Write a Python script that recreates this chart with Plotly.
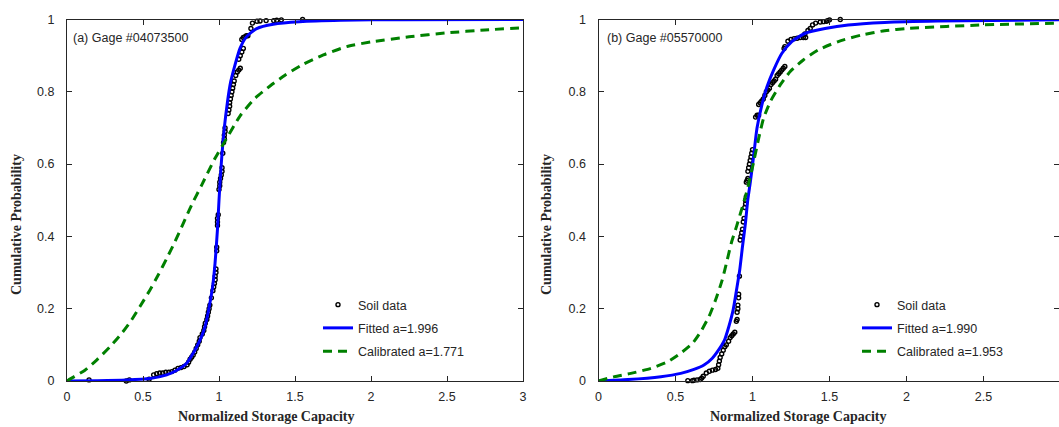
import plotly.graph_objects as go

# ---------------- data ----------------
# Panel (a) Gage #04073500
soil_a_x = [0.145, 0.39, 0.41, 0.54, 0.57, 0.59, 0.61, 0.63, 0.65, 0.67, 0.69,
            0.71, 0.73, 0.75, 0.77, 0.79, 0.80, 0.81, 0.82, 0.83, 0.84, 0.85, 0.86,
            0.87, 0.875, 0.89, 0.90, 0.905, 0.91, 0.92, 0.925, 0.93, 0.935, 0.94,
            0.95, 0.96, 0.965, 0.97, 0.975, 0.975, 0.98, 0.98, 0.985, 0.985, 0.99,
            0.99, 0.99, 0.995, 1.0, 1.005, 1.005, 1.01, 1.015, 1.02, 1.02, 1.025,
            1.03, 1.035, 1.035, 1.04, 1.04, 1.06, 1.065, 1.07, 1.07, 1.075, 1.08,
            1.085, 1.09, 1.095, 1.10, 1.11, 1.12, 1.13, 1.14, 1.13, 1.14, 1.15,
            1.16, 1.15, 1.16, 1.17, 1.18, 1.19, 1.21, 1.22, 1.25, 1.27, 1.31, 1.36,
            1.38, 1.41, 1.55]
soil_a_y = [0.003, 0.0, 0.003, 0.005, 0.017, 0.02, 0.022, 0.022, 0.024, 0.024, 0.026,
            0.03, 0.035, 0.037, 0.04, 0.045, 0.052, 0.06, 0.066, 0.072, 0.08, 0.09, 0.10,
            0.11, 0.12, 0.13, 0.14, 0.15, 0.16, 0.17, 0.18, 0.19, 0.20, 0.21,
            0.23, 0.25, 0.26, 0.27, 0.28, 0.29, 0.30, 0.31, 0.36, 0.37, 0.43,
            0.44, 0.45, 0.46, 0.53, 0.54, 0.55, 0.56, 0.57, 0.58, 0.59, 0.63,
            0.66, 0.67, 0.68, 0.69, 0.70, 0.74, 0.75, 0.76, 0.77, 0.78, 0.79,
            0.80, 0.81, 0.82, 0.83, 0.845, 0.855, 0.86, 0.865, 0.89, 0.90, 0.91,
            0.92, 0.945, 0.95, 0.952, 0.955, 0.955, 0.975, 0.99, 0.995, 0.996, 0.997, 0.997,
            0.998, 0.999, 1.0]

fit_a_x = [0, 0.2, 0.39, 0.546, 0.656, 0.72, 0.787, 0.83, 0.875, 0.908, 0.936, 0.958,
           0.974, 0.99, 1.0, 1.01, 1.02, 1.035, 1.055, 1.077, 1.105, 1.138, 1.18, 1.248,
           1.357, 1.53, 1.8, 2.2, 3.0]
fit_a_y = [0, 0.001, 0.003, 0.007, 0.017, 0.029, 0.049, 0.077, 0.113, 0.15, 0.206, 0.261,
           0.326, 0.42, 0.50, 0.57, 0.63, 0.70, 0.77, 0.828, 0.874, 0.92, 0.952, 0.975,
           0.987, 0.994, 0.998, 0.9995, 1.0]

cal_a_x = [0, 0.01, 0.118, 0.195, 0.283, 0.36, 0.425, 0.48, 0.546, 0.60, 0.656, 0.71,
           0.765, 0.82, 0.886, 0.974, 1.05, 1.138, 1.237, 1.336, 1.434, 1.544, 1.687,
           1.84, 2.0, 2.25, 2.5, 2.75, 3.0]
cal_a_y = [0, 0.003, 0.03, 0.058, 0.095, 0.132, 0.169, 0.206, 0.252, 0.293, 0.339, 0.385,
           0.436, 0.487, 0.542, 0.616, 0.671, 0.733, 0.782, 0.816, 0.846, 0.874, 0.902,
           0.925, 0.938, 0.952, 0.963, 0.971, 0.977]

# Panel (b) Gage #05570000
soil_b_x = [0.58, 0.61, 0.62, 0.64, 0.66, 0.67, 0.68, 0.70, 0.72, 0.74, 0.76, 0.775,
            0.78, 0.785, 0.79, 0.80, 0.81, 0.82, 0.83, 0.845, 0.855, 0.865, 0.875, 0.885,
            0.895, 0.90, 0.90, 0.905, 0.905, 0.91, 0.91, 0.915, 0.92, 0.925, 0.93, 0.935,
            0.94, 0.945, 0.95, 0.955, 0.955, 0.96, 0.96, 0.965, 0.97, 0.97, 0.975, 0.98,
            0.985, 0.99, 0.995, 1.0, 1.02, 1.03, 1.04, 1.04, 1.05, 1.06, 1.07, 1.08,
            1.09, 1.10, 1.11, 1.12, 1.13, 1.14, 1.15, 1.16, 1.17, 1.18, 1.19, 1.20,
            1.21, 1.205, 1.21, 1.23, 1.25, 1.27, 1.29, 1.31, 1.33, 1.345, 1.34, 1.36,
            1.375, 1.39, 1.41, 1.44, 1.46, 1.48, 1.49, 1.50, 1.57]
soil_b_y = [0.001, 0.001, 0.002, 0.003, 0.004, 0.008, 0.013, 0.022, 0.027, 0.03, 0.032, 0.035,
            0.045, 0.055, 0.065, 0.075, 0.085, 0.095, 0.10, 0.11, 0.12, 0.125, 0.13, 0.135,
            0.165, 0.17, 0.19, 0.20, 0.21, 0.23, 0.24, 0.29, 0.39, 0.40, 0.41, 0.42,
            0.44, 0.45, 0.48, 0.49, 0.50, 0.51, 0.55, 0.555, 0.56, 0.58, 0.59, 0.60,
            0.61, 0.62, 0.63, 0.64, 0.73, 0.735, 0.735, 0.765, 0.77, 0.775, 0.78, 0.79,
            0.80, 0.805, 0.81, 0.82, 0.825, 0.83, 0.835, 0.845, 0.85, 0.855, 0.86, 0.865,
            0.87, 0.92, 0.925, 0.94, 0.945, 0.947, 0.948, 0.95, 0.95, 0.95, 0.96, 0.97,
            0.975, 0.985, 0.99, 0.993, 0.994, 0.995, 0.997, 0.999, 1.0]

fit_b_x = [0, 0.19, 0.405, 0.534, 0.62, 0.685, 0.739, 0.78, 0.818, 0.846, 0.874, 0.896,
           0.917, 0.935, 0.954, 0.969, 0.986, 1.008, 1.029, 1.061, 1.094, 1.137, 1.19,
           1.255, 1.342, 1.471, 1.621, 1.858, 2.2, 3.0]
fit_b_y = [0, 0.004, 0.012, 0.021, 0.032, 0.044, 0.063, 0.086, 0.113, 0.15, 0.196, 0.251,
           0.307, 0.372, 0.436, 0.50, 0.55, 0.625, 0.699, 0.764, 0.814, 0.86, 0.906,
           0.939, 0.962, 0.975, 0.985, 0.992, 0.996, 0.999]

cal_b_x = [0, 0.103, 0.21, 0.34, 0.448, 0.534, 0.61, 0.663, 0.717, 0.76, 0.803, 0.836,
           0.862, 0.896, 0.922, 0.954, 0.975, 1.008, 1.04, 1.072, 1.116, 1.18, 1.245,
           1.33, 1.428, 1.557, 1.707, 1.858, 2.0, 2.5, 3.0]
cal_b_y = [0, 0.012, 0.021, 0.035, 0.053, 0.077, 0.104, 0.136, 0.178, 0.224, 0.279, 0.335,
           0.381, 0.427, 0.464, 0.51, 0.545, 0.607, 0.671, 0.727, 0.773, 0.819, 0.856,
           0.888, 0.916, 0.939, 0.957, 0.969, 0.975, 0.985, 0.99]

labels_a = ["Soil data", "Fitted a=1.996", "Calibrated a=1.771"]
labels_b = ["Soil data", "Fitted a=1.990", "Calibrated a=1.953"]
panel_titles = ["(a) Gage #04073500", "(b) Gage #05570000"]
x_title = "Normalized Storage Capacity"
y_title = "Cumulative Probability"
x_ticks = [0, 0.5, 1, 1.5, 2, 2.5, 3]
x_tick_text = ["0", "0.5", "1", "1.5", "2", "2.5", "3"]
y_ticks = [0, 0.2, 0.4, 0.6, 0.8, 1]
y_tick_text = ["0", "0.2", "0.4", "0.6", "0.8", "1"]

# ---------------- figure ----------------
W, H = 1059, 427
AX = "#262626"
SANS = "Liberation Sans, Arial, sans-serif"
SERIF = "Liberation Serif, Times New Roman, serif"
FS = 12.5

fig = go.Figure()

panels = [
    (soil_a_x, soil_a_y, fit_a_x, fit_a_y, cal_a_x, cal_a_y, labels_a, "x", "y", "legend"),
    (soil_b_x, soil_b_y, fit_b_x, fit_b_y, cal_b_x, cal_b_y, labels_b, "x2", "y2", "legend2"),
]
for i, (sx, sy, fx, fy, cx, cy, labs, xa, ya, lg) in enumerate(panels):
    fig.add_trace(go.Scatter(
        x=sx, y=sy, mode="markers", name=labs[0], xaxis=xa, yaxis=ya, legend=lg,
        legendgroup=f"s{i}",
        marker=dict(symbol="circle-open", size=4, color="black", line=dict(width=1.4, color="black")),
        cliponaxis=False))
    fig.add_trace(go.Scatter(
        x=fx, y=fy, mode="lines", name=labs[1], xaxis=xa, yaxis=ya, legend=lg,
        legendgroup=f"f{i}",
        line=dict(color="#0000ff", width=3, shape="spline", smoothing=0.6)))
    fig.add_trace(go.Scatter(
        x=cx, y=cy, mode="lines", name=labs[2], xaxis=xa, yaxis=ya, legend=lg,
        legendgroup=f"c{i}",
        line=dict(color="#008000", width=3, dash="9px,6px", shape="spline", smoothing=0.6)))

ytop = 1 - 19.5 / H
ybot = 1 - 381 / H

axis_common = dict(
    showline=True, linecolor=AX, linewidth=1, mirror="ticks",
    ticks="inside", ticklen=5, tickcolor=AX, tickwidth=1,
    showgrid=False, zeroline=False, automargin=False,
    tickfont=dict(family=SANS, size=FS, color=AX),
)

leg_common = dict(xanchor="left", yanchor="top", bgcolor="rgba(0,0,0,0)", borderwidth=0,
                  tracegroupgap=4, font=dict(family=SANS, size=FS, color=AX), itemwidth=30)

fig.update_layout(
    width=W, height=H,
    margin=dict(l=0, r=0, t=0, b=0, pad=0, autoexpand=False),
    paper_bgcolor="white", plot_bgcolor="white",
    xaxis=dict(domain=[67 / W, 523 / W], range=[0, 3], tickvals=x_ticks, ticktext=x_tick_text,
               anchor="y", ticklabelstandoff=4, **axis_common),
    yaxis=dict(domain=[ybot, ytop], range=[0, 1], tickvals=y_ticks, ticktext=y_tick_text,
               anchor="x", ticklabelstandoff=9, **axis_common),
    xaxis2=dict(domain=[598.5 / W, 1.0], range=[0, 3 * (W - 598.5) / (1060.5 - 598.5)],
                tickvals=x_ticks, ticktext=x_tick_text,
                anchor="y2", ticklabelstandoff=4, **axis_common),
    yaxis2=dict(domain=[ybot, ytop], range=[0, 1], tickvals=y_ticks, ticktext=y_tick_text,
                anchor="x2", ticklabelstandoff=9, **axis_common),
    legend=dict(x=318 / W, y=1 - 290 / H, **leg_common),
    legend2=dict(x=857 / W, y=1 - 290 / H, **leg_common),
    showlegend=True,
)

# panel labels
for px, txt in [(71, panel_titles[0]), (605, panel_titles[1])]:
    fig.add_annotation(xref="paper", yref="paper", x=px / W, y=1 - 38 / H, xanchor="left",
                       yanchor="middle", text=txt, showarrow=False,
                       font=dict(family=SANS, size=FS, color=AX))

# axis titles (placed as in the reference, slightly off-centre)
for cx in [266, 798]:
    fig.add_annotation(xref="paper", yref="paper", x=cx / W, y=1 - 416 / H, xanchor="center",
                       yanchor="middle", text=x_title, showarrow=False,
                       font=dict(family=SERIF, size=14, color=AX, weight="bold"))
for cx in [16, 546]:
    fig.add_annotation(xref="paper", yref="paper", x=cx / W, y=1 - 225 / H, xanchor="center",
                       yanchor="middle", text=y_title, showarrow=False, textangle=-90,
                       font=dict(family=SERIF, size=14, color=AX, weight="bold"))

# clipped last tick label of panel (b), as in the reference
fig.add_annotation(xref="x2", yref="paper", x=3, y=1 - 396 / H, xanchor="center",
                   yanchor="middle", xshift=-3, text=x_tick_text[-1], showarrow=False,
                   font=dict(family=SANS, size=FS, color=AX))

fig.write_html("out.html", config={"displayModeBar": False},
               post_script="document.body.style.margin='0px';")
